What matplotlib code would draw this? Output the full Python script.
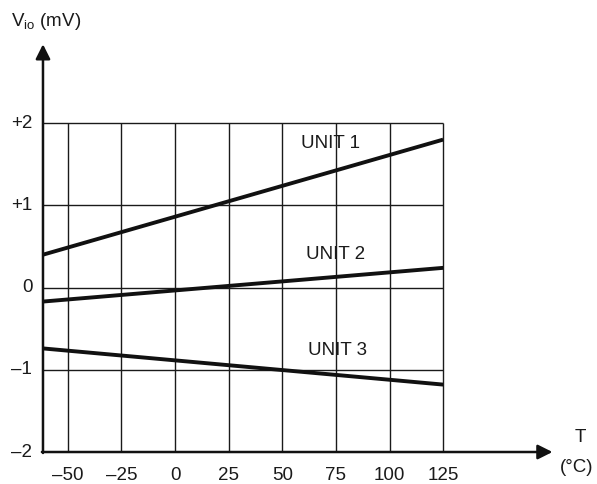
import matplotlib
matplotlib.use('Agg')
import matplotlib.pyplot as plt

plt.rcParams['font.family'] = ['Liberation Sans Narrow', 'Liberation Sans', 'DejaVu Sans']

# temperature range of the curves (deg C)
t_ends = [-61.6, 125]
unit1 = [0.40, 1.80]
unit2 = [-0.17, 0.24]
unit3 = [-0.74, -1.18]
unit_names = ['UNIT 1', 'UNIT 2', 'UNIT 3']
label_pos = [(58.5, 1.75), (61, 0.40), (62, -0.77)]

x_ticks = [-50, -25, 0, 25, 50, 75, 100, 125]
y_ticks = [-2, -1, 0, 1, 2]
y_ticklabels = ['\u20132', '\u20131', '0', '+1', '+2']
x_ticklabels = ['\u201350', '\u201325', '0', '25', '50', '75', '100', '125']

x0, x1 = -61.6, 179.5
y0, y1 = -2, 3.01
fs = 13.5
tc = '#1a1a1a'

fig = plt.figure(figsize=(5.97, 4.84), dpi=100)
ax = fig.add_axes([0.072, 0.0661, 0.866, 0.851])
ax.set_xlim(x0, x1)
ax.set_ylim(y0, y1)
ax.axis('off')

# grid
for x in x_ticks:
    ax.plot([x, x], [y0, 2], color='#1a1a1a', lw=1.0, solid_capstyle='butt')
for y in y_ticks[1:]:
    ax.plot([x0, 125], [y, y], color='#1a1a1a', lw=1.0, solid_capstyle='butt')

# axes with arrows
ax.annotate('', xy=(176, y0), xytext=(x0 - 0.5, y0),
            arrowprops=dict(arrowstyle='-|>', lw=1.8, color='#111111',
                            mutation_scale=22, shrinkA=0, shrinkB=0))
ax.annotate('', xy=(x0, 2.96), xytext=(x0, y0 - 0.012),
            arrowprops=dict(arrowstyle='-|>', lw=1.8, color='#111111',
                            mutation_scale=22, shrinkA=0, shrinkB=0))

# curves
for vals in (unit1, unit2, unit3):
    ax.plot(t_ends, vals, color='#111111', lw=2.8, solid_capstyle='butt')

for name, (tx, ty) in zip(unit_names, label_pos):
    ax.text(tx, ty, name, fontsize=fs, color=tc, ha='left', va='center')

for y, lab in zip(y_ticks, y_ticklabels):
    ax.text(x0 - 5.0, y, lab, fontsize=fs, color=tc, ha='right', va='center')
for x, lab in zip(x_ticks, x_ticklabels):
    ax.text(x, y0 - 0.28, lab, fontsize=fs, color=tc, ha='center', va='center')

fig.text(580 / 597, 1 - 438 / 484, 'T', fontsize=fs, color=tc, ha='center', va='center')
fig.text(577 / 597, 1 - 467 / 484, '(\u00b0C)', fontsize=fs, color=tc, ha='center', va='center')
fig.text(11 / 597, 1 - 22 / 484, r'V$_{\mathregular{io}}$ (mV)', fontsize=fs, color=tc,
         ha='left', va='center')

fig.savefig('out.png', dpi=100)
